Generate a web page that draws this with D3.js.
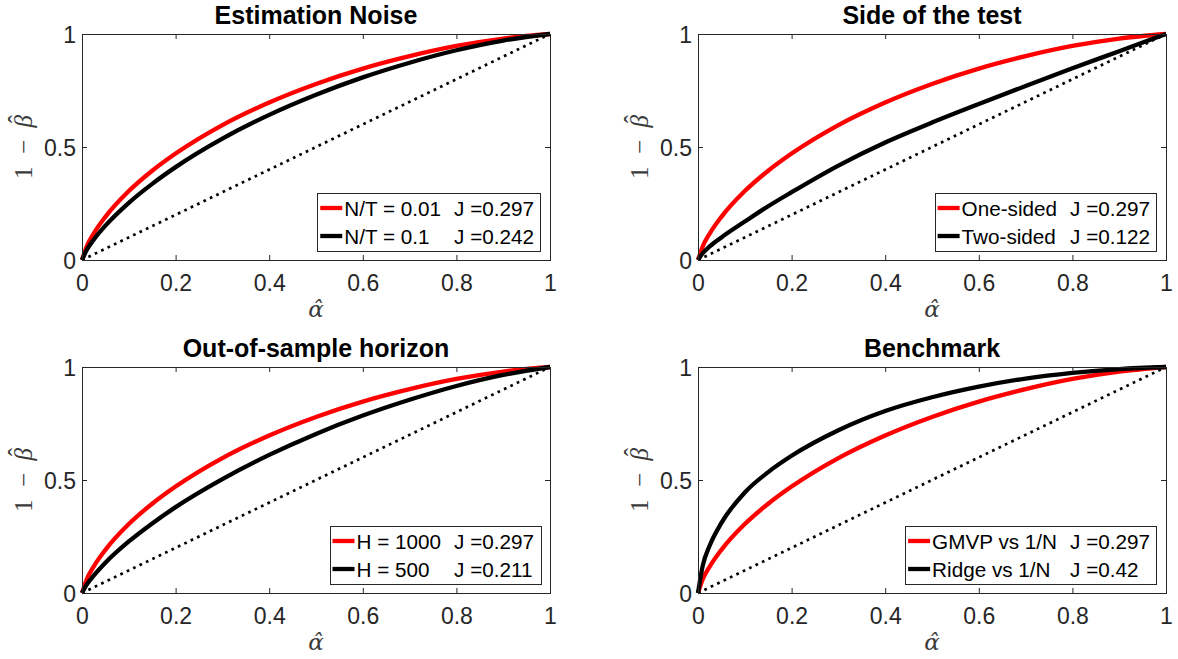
<!DOCTYPE html>
<html>
<head>
<meta charset="utf-8">
<script src="https://cdn.jsdelivr.net/npm/d3@7"></script>
<style>
  body { margin: 0; background: #fff; }
  svg { display: block; }
</style>
</head>
<body>
<svg id="chart" width="1178" height="659"></svg>
<script>
// Estimated false-positive rate (alpha-hat) grid shared by every ROC curve
const alphaGrid = [0, 0.01, 0.025, 0.05, 0.1, 0.15, 0.2, 0.3, 0.4, 0.5, 0.6, 0.7, 0.8, 0.9, 1];

// Power (1 - beta-hat) of the baseline test: N/T = 0.01, one-sided, H = 1000, GMVP vs 1/N
const powerBaseline = [0, 0.060, 0.117, 0.191, 0.305, 0.395, 0.471, 0.597, 0.697, 0.779, 0.847, 0.902, 0.947, 0.980, 1];
// Alternatives, one per panel
const powerNoise     = [0, 0.044, 0.090, 0.152, 0.253, 0.337, 0.411, 0.537, 0.642, 0.731, 0.808, 0.873, 0.928, 0.971, 1];
const powerTwoSided  = [0, 0.030, 0.060, 0.100, 0.170, 0.238, 0.300, 0.418, 0.520, 0.608, 0.690, 0.770, 0.848, 0.924, 1];
const powerH500      = [0, 0.037, 0.077, 0.134, 0.228, 0.308, 0.380, 0.504, 0.611, 0.704, 0.785, 0.855, 0.916, 0.965, 1];
const powerRidge     = [0, 0.120, 0.210, 0.310, 0.445, 0.535, 0.607, 0.720, 0.805, 0.866, 0.913, 0.949, 0.974, 0.991, 1];

const panelTitles = ["Estimation Noise", "Side of the test", "Out-of-sample horizon", "Benchmark"];
const redLabels   = ["N/T = 0.01", "One-sided", "H = 1000", "GMVP vs 1/N"];
const blackLabels = ["N/T = 0.1", "Two-sided", "H = 500", "Ridge vs 1/N"];
const redJ   = [0.297, 0.297, 0.297, 0.297];
const blackJ = [0.242, 0.122, 0.211, 0.42];
const blackSeries = [powerNoise, powerTwoSided, powerH500, powerRidge];

const xTicks = [0, 0.2, 0.4, 0.6, 0.8, 1];
const yTicks = [0, 0.5, 1];

// Axes rectangles of the 2x2 grid
const frames = [
  { left: 82,  right: 550,  top: 34,  bottom: 260 },
  { left: 698, right: 1166, top: 34,  bottom: 260 },
  { left: 82,  right: 550,  top: 367, bottom: 593 },
  { left: 698, right: 1166, top: 367, bottom: 593 }
];

const axisColor = "#262626";
const labelColor = "#3a3a3a";
const sans = "'Liberation Sans', Arial, Helvetica, sans-serif";
const serif = "'Liberation Serif', 'Times New Roman', serif";
const mathSerif = "'DejaVu Serif', serif";
const tickSize = 23;
const svg = d3.select("#chart");

function textWidth(s, family, size, italic) {
  const tmp = svg.append("text").style("font-family", family).style("font-size", size + "px")
    .style("font-style", italic ? "italic" : "normal").text(s);
  const w = tmp.node().getComputedTextLength();
  tmp.remove();
  return w;
}

function drawPanel(i) {
  const f = frames[i];
  const x = d3.scaleLinear().domain([0, 1]).range([f.left, f.right]);
  const y = d3.scaleLinear().domain([0, 1]).range([f.bottom, f.top]);
  const g = svg.append("g");

  const line = d3.line()
    .x((d, k) => x(alphaGrid[k]))
    .y(d => y(d))
    .curve(d3.curveMonotoneX);

  // ROC curves
  g.append("path").datum(powerBaseline)
    .attr("d", line).attr("fill", "none")
    .attr("stroke", "#ff0000").attr("stroke-width", 4.3)
    .attr("stroke-linejoin", "round");
  g.append("path").datum(blackSeries[i])
    .attr("d", line).attr("fill", "none")
    .attr("stroke", "#000000").attr("stroke-width", 4.3)
    .attr("stroke-linejoin", "round");

  // 45-degree chance line
  g.append("path").datum([0, 1])
    .attr("d", d3.line().x(d => x(d)).y(d => y(d)))
    .attr("fill", "none").attr("stroke", "#000")
    .attr("stroke-width", 2.7).attr("stroke-dasharray", "2.7 4.4");

  // Axes: ticks pointing inward on all four sides
  const tl = 5;
  const bottomAxis = d3.axisBottom(x).tickValues(xTicks).tickSize(-tl).tickFormat(d3.format("~g"));
  const topAxis = d3.axisTop(x).tickValues(xTicks).tickSize(-tl).tickFormat("");
  const leftAxis = d3.axisLeft(y).tickValues(yTicks).tickSize(-tl).tickPadding(6).tickFormat(d3.format("~g"));
  const rightAxis = d3.axisRight(y).tickValues(yTicks).tickSize(-tl).tickFormat("");

  const styleAxis = sel => {
    sel.select(".domain").remove();
    sel.selectAll(".tick line").attr("stroke", axisColor).attr("stroke-width", 1);
    sel.selectAll("text").attr("fill", axisColor)
      .style("font-family", sans).style("font-size", tickSize + "px");
  };
  g.append("g").attr("transform", `translate(0,${f.bottom})`).call(bottomAxis).call(styleAxis)
    .selectAll("text").attr("dy", null).attr("y", 31);
  g.append("g").attr("transform", `translate(0,${f.top})`).call(topAxis).call(styleAxis);
  g.append("g").attr("transform", `translate(${f.left},0)`).call(leftAxis).call(styleAxis)
    .selectAll("text").attr("dy", "0.36em");
  g.append("g").attr("transform", `translate(${f.right},0)`).call(rightAxis).call(styleAxis);

  // Box
  g.append("rect")
    .attr("x", f.left + 0.5).attr("y", f.top + 0.5)
    .attr("width", f.right - f.left).attr("height", f.bottom - f.top)
    .attr("fill", "none").attr("stroke", axisColor).attr("stroke-width", 1);

  // Title
  g.append("text")
    .attr("x", (f.left + f.right) / 2).attr("y", f.top - 10)
    .attr("text-anchor", "middle")
    .style("font-family", sans).style("font-size", "25px").style("font-weight", "bold")
    .attr("fill", "#000").text(panelTitles[i]);

  // x label: alpha-hat
  const cx = (f.left + f.right) / 2;
  g.append("text").attr("x", cx).attr("y", f.bottom + 57).attr("text-anchor", "middle")
    .attr("fill", labelColor).style("font-family", mathSerif).style("font-size", "23px")
    .style("font-style", "italic").text("α\u0302");

  // y label: 1 - beta-hat, rotated; the hat sits centred above the beta
  const t = g.append("text")
    .attr("transform", `translate(${f.left - 50},${(f.top + f.bottom) / 2}) rotate(-90)`)
    .attr("text-anchor", "middle")
    .attr("fill", labelColor).style("font-family", serif).style("font-size", "25px");
  t.append("tspan").text("1\u2002−\u2002");
  const wB = textWidth("β", serif, 25, true);
  const wH = textWidth("ˆ", serif, 25, false);
  t.append("tspan").style("font-style", "italic").text("β");
  t.append("tspan").attr("dx", -(wB + wH) / 2 + 2).attr("dy", -6).text("ˆ");
  t.append("tspan").attr("dx", (wB - wH) / 2 - 2).attr("dy", 6).text("");

  // Legend, anchored to the lower-right corner of the axes
  const lg = g.append("g");
  const fs = 20.7;
  const rowY = [f.bottom - 51, f.bottom - 23];
  const labels = [redLabels[i], blackLabels[i]];
  const jTexts = ["J =" + redJ[i], "J =" + blackJ[i]];
  const colors = ["#ff0000", "#000000"];
  const labelW = d3.max(labels, s => textWidth(s, sans, fs, false));
  const jW = d3.max(jTexts, s => textWidth(s, sans, fs, false));
  const lineLen = 22;
  const boxW = 3 + lineLen + 2 + labelW + 13 + jW + 6;
  const boxR = f.right - 10;
  const boxL = boxR - boxW;
  const boxTop = f.bottom - 67;
  const boxBot = f.bottom - 9;
  lg.append("rect")
    .attr("x", Math.round(boxL) + 0.5).attr("y", boxTop + 0.5)
    .attr("width", Math.round(boxR - boxL)).attr("height", boxBot - boxTop)
    .attr("fill", "#fff").attr("stroke", axisColor).attr("stroke-width", 1);
  const lx0 = boxL + 3;
  labels.forEach((lab, k) => {
    lg.append("line")
      .attr("x1", lx0).attr("x2", lx0 + lineLen)
      .attr("y1", rowY[k] - 1).attr("y2", rowY[k] - 1)
      .attr("stroke", colors[k]).attr("stroke-width", 4.3);
    lg.append("text")
      .attr("x", lx0 + lineLen + 2).attr("y", rowY[k]).attr("dy", "0.36em")
      .style("font-family", sans).style("font-size", fs + "px").attr("fill", "#000")
      .text(lab);
    lg.append("text")
      .attr("x", lx0 + lineLen + 2 + labelW + 13).attr("y", rowY[k]).attr("dy", "0.36em")
      .style("font-family", sans).style("font-size", fs + "px").attr("fill", "#000")
      .text(jTexts[k]);
  });
}

frames.forEach((f, i) => drawPanel(i));
</script>
</body>
</html>
